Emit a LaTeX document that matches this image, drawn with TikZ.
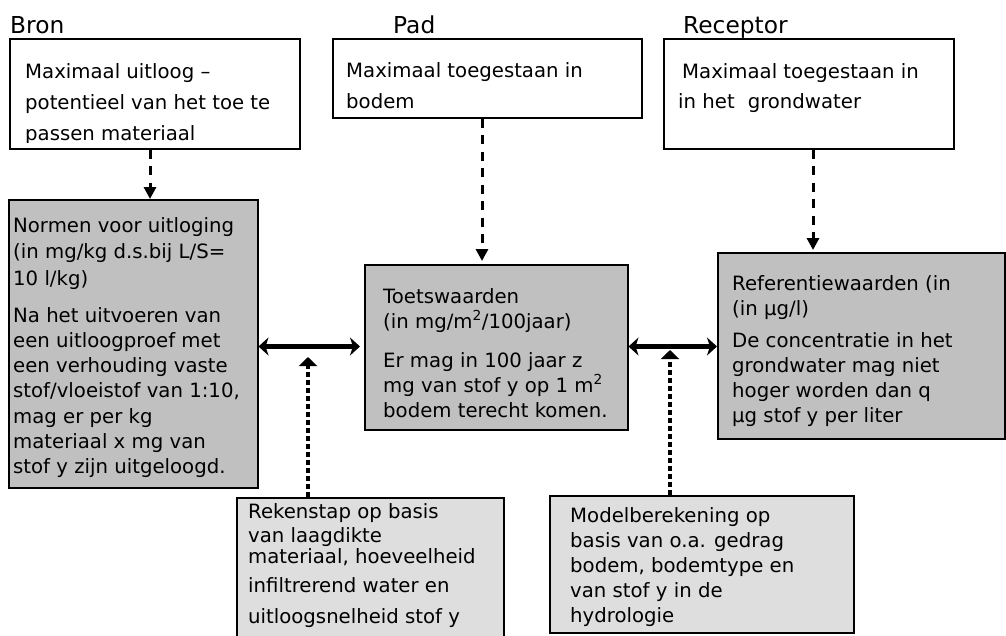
\documentclass[tikz,border=0pt]{standalone}
\usepackage{fontspec}
\setmainfont{DejaVu Sans}
\usetikzlibrary{arrows.meta}
\definecolor{boxgray}{RGB}{192,192,192}
\definecolor{paleGray}{RGB}{222,222,222}
\newcommand\txtlines[2]{\vtop{\baselineskip=#1\relax #2}}
\tikzset{
  basebox/.style={draw=black, line width=1.5pt, inner sep=0pt, anchor=north west},
  whitebox/.style={basebox, fill=white},
  graybox/.style={basebox, fill=boxgray},
  palebox/.style={basebox, fill=paleGray},
  txt/.style={inner sep=0pt, anchor=base west, font=\fontsize{19.7}{25}\selectfont},
  headtxt/.style={inner sep=0pt, anchor=base west, font=\fontsize{23.3}{28}\selectfont},
  dasharrow/.style={line width=3pt, dash pattern=on 9pt off 7.5pt, -{Triangle[length=12pt,width=12pt]}},
  dotarrow/.style={line width=3.5pt, dash pattern=on 5pt off 3pt, -{Triangle[length=9pt,width=18pt]}},
  dblarrow/.style={line width=4.5pt, {Stealth[length=10pt,width=18pt,inset=3pt]}-{Stealth[length=10pt,width=18pt,inset=3pt]}}
}
\begin{document}
\begin{tikzpicture}[x=1pt,y=-1pt]
\useasboundingbox (0,0) rectangle (1006,635);
\fill[white] (0,0) rectangle (1006,635);

% headings
\node[headtxt] (hbron) at (10,33) {Bron};
\node[headtxt] (hpad) at (393,33) {Pad};
\node[headtxt] (hrec) at (683,33) {Receptor};

% top boxes
\node[whitebox, minimum width=290pt, minimum height=110pt] (bron) at (9,38) {};
\node[whitebox, minimum width=309pt, minimum height=79pt] (pad) at (332,38) {};
\node[whitebox, minimum width=290pt, minimum height=110pt] (rec) at (663,38) {};

\begin{scope}
\clip (9,38) rectangle (299,142.5);
\node[txt] (tbron) at (25,78) {\txtlines{31pt}{\hbox{Maximaal uitloog –}\hbox{potentieel van het toe te}\hbox{passen materiaal}}};
\end{scope}
\node[txt] (tpad) at (346,77) {\txtlines{31pt}{\hbox{Maximaal toegestaan in}\hbox{bodem}}};
\node[txt] (trec) at (682,78) {\txtlines{30pt}{\hbox{Maximaal toegestaan in}\hbox{\kern-4pt in het\hspace{13pt}grondwater}}};

% middle boxes
\node[graybox, minimum width=249pt, minimum height=288pt] (normen) at (8,199) {};
\node[graybox, minimum width=263pt, minimum height=165pt] (toets) at (364,264) {};
\node[graybox, minimum width=287pt, minimum height=186pt] (ref) at (717,252) {};

\node[txt] (tn1) at (13,232) {\txtlines{26.5pt}{\hbox{Normen voor uitloging}\hbox{(in mg/kg d.s.bij L/S=}\hbox{10 l/kg)}}};
\node[txt] (tn2) at (13,322) {\txtlines{25.3pt}{\hbox{Na het uitvoeren van}\hbox{een uitloogproef met}\hbox{een verhouding vaste}\hbox{stof/vloeistof van 1:10,}\hbox{mag er per kg}\hbox{materiaal x mg van}\hbox{stof y zijn uitgeloogd.}}};

\node[txt] (tt1) at (383,303) {\txtlines{25pt}{\hbox{Toetswaarden}\hbox{(in mg/m\textsuperscript{2}/100jaar)}}};
\node[txt] (tt2) at (383,367) {\txtlines{25pt}{\hbox{Er mag in 100 jaar z}\hbox{mg van stof y op 1 m\textsuperscript{2}}\hbox{bodem terecht komen.}}};

\node[txt] (tr1) at (732,290) {\txtlines{25pt}{\hbox{Referentiewaarden (in}\hbox{(in µg/l)}}};
\node[txt] (tr2) at (732,347) {\txtlines{25.3pt}{\hbox{De concentratie in het}\hbox{grondwater mag niet}\hbox{hoger worden dan q}\hbox{µg stof y per liter}}};

% bottom boxes
\node[palebox, minimum width=267pt, minimum height=142pt] (rek) at (236,497) {};
\node[palebox, minimum width=304pt, minimum height=137pt] (mod) at (549,495) {};

\node[txt] (trek) at (248,518) {\txtlines{24pt}{\hbox{Rekenstap op basis}\hbox{van laagdikte}\vskip-3pt\hbox{materiaal, hoeveelheid}\vskip5pt\hbox{infiltrerend water en}\vskip7pt\hbox{uitloogsnelheid stof y}}};
\node[txt] (tmod) at (570,522) {\txtlines{25pt}{\hbox{Modelberekening op}\hbox{basis van o.a. gedrag}\hbox{bodem, bodemtype en}\hbox{van stof y in de}\hbox{hydrologie}}};

% helper coordinates
\coordinate (xa) at (150,0);
\coordinate (xb) at (482,0);
\coordinate (xc) at (813,0);
\coordinate (xd) at (308,0);
\coordinate (xe) at (670,0);
\coordinate (ya) at (0,346.5);
\coordinate (t1) at (308,357);
\coordinate (t2) at (670,350);

% connectors
\draw[dasharrow] (bron.south -| xa) -- (normen.north -| xa);
\draw[dasharrow, shorten >=3pt] (pad.south -| xb) -- (toets.north -| xb);
\draw[dasharrow, shorten >=2pt] (rec.south -| xc) -- (ref.north -| xc);
\draw[dblarrow, shorten >=4pt] (normen.east |- ya) -- (toets.west |- ya);
\draw[dblarrow] (toets.east |- ya) -- (ref.west |- ya);
\draw[dotarrow] (rek.north -| xd) -- (t1);
\draw[dotarrow] (mod.north -| xe) -- (t2);
\end{tikzpicture}
\end{document}
